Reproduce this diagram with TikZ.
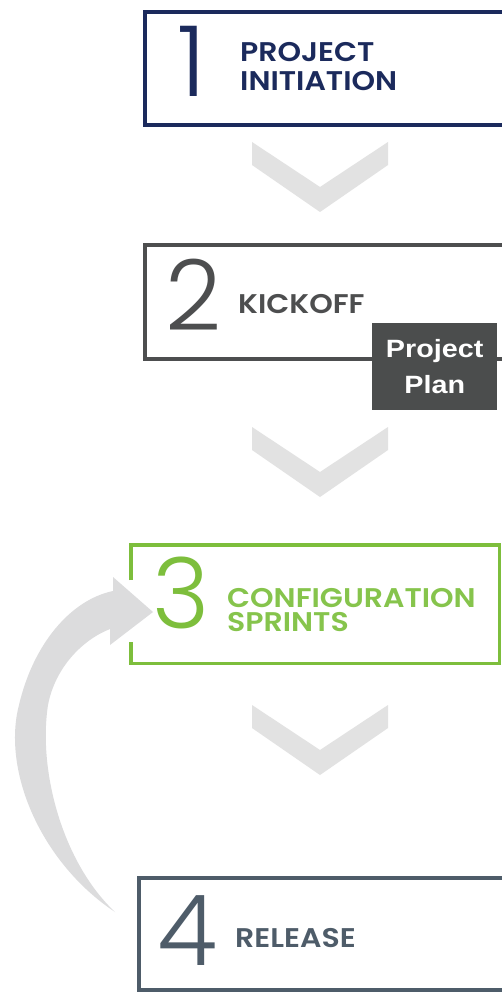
\documentclass[tikz,border=0pt]{standalone}
\usepackage{fontspec}
\usetikzlibrary{calc}
\setmainfont{Poppins}
\IfFontExistsTF{Poppins Light}
  {\newfontfamily\numfont{Poppins Light}}
  {\newfontfamily\numfont{DejaVu Sans ExtraLight}}
\IfFontExistsTF{Poppins SemiBold}
  {\newfontfamily\capfont{Poppins SemiBold}[FakeStretch=1.11]}
  {\newfontfamily\capfont{Poppins}[FakeBold=1.2,FakeStretch=1.11]}
\newfontfamily\planfont{Liberation Sans}[FakeStretch=1.15]

\definecolor{navyline}{HTML}{1B2A5C}
\definecolor{kickgray}{HTML}{4D4E4F}
\definecolor{planfill}{HTML}{4B4D4D}
\definecolor{sprintgreen}{HTML}{7DBE3C}
\definecolor{sprinttext}{HTML}{86C44C}
\definecolor{releaseslate}{HTML}{4E5C69}
\definecolor{chevgray}{HTML}{E2E2E2}
\definecolor{loopgray}{HTML}{DCDCDD}

\tikzset{
  stagebox/.style={rectangle, inner sep=0pt, anchor=north west},
  bignum/.style={inner sep=0pt, anchor=base, text depth=0pt,
    font=\numfont\fontsize{98}{98}\selectfont},
  steplabel/.style={inner sep=0pt, anchor=base west, text depth=0pt,
    font=\capfont\fontsize{27}{29}\selectfont},
  chev/.pic={
    \fill[chevgray] (-68,0) -- (0,45) -- (68,0) -- (68,23) -- (0,70) -- (-68,23) -- cycle;
  }
}

\begin{document}
\begin{tikzpicture}[x=1pt,y=-1pt]
\useasboundingbox (0,0) rectangle (502,992);
\fill[white] (0,0) rectangle (502,992);
\begin{scope}
\clip (0,0) rectangle (502,992);

% stage frames (they run on past the right edge)
\node[stagebox, draw=navyline, line width=4pt, minimum width=370pt, minimum height=113pt] (s1) at (143,10) {};
\node[stagebox, draw=kickgray, line width=3.5pt, minimum width=370pt, minimum height=114pt] (s2) at (143,243) {};
\node[stagebox, minimum width=368pt, minimum height=118pt] (s3) at (131,545) {};
\node[stagebox, draw=releaseslate, line width=3.5pt, minimum width=370pt, minimum height=112pt] (s4) at (137,876) {};

% chevrons between the stages
\pic at (320,142) {chev};
\pic at (320,427) {chev};
\pic at (320,705) {chev};

% loop arrow from release back to the sprints
\coordinate (looptail) at (115,912);
\coordinate (looptip) at (153,612);
\fill[loopgray] (looptail)
  .. controls (40,862) and (2,770) .. (19,705)
  .. controls (33,645) and (70,600) .. (113,591)
  -- (113,577) -- (looptip) -- (110,645) -- (110,629)
  .. controls (82,640) and (55,668) .. (48,705)
  .. controls (38,770) and (62,862) .. (looptail) -- cycle;

% sprint frame, open on the left where the loop arrow enters
\draw[sprintgreen, line width=3.5pt]
  ($(s3.north west)+(0,35)$) -- (s3.north west) -- (s3.north east)
  -- (s3.south east) -- (s3.south west) -- ($(s3.south west)+(0,-21)$);
\end{scope}

% deliverable tag
\node[fill=planfill, text=white, inner sep=0pt, minimum width=125pt, minimum height=87pt,
      anchor=north west, align=center,
      font=\planfont\bfseries\fontsize{25}{36}\selectfont] (plan) at (372,323) {Project\\Plan};

% numerals
\node[bignum, text=navyline] (n1) at (192,97) {1};
\node[bignum, text=kickgray] (n2) at (194,330) {2};
\node[bignum, text=sprintgreen] (n3) at (181,628) {3};
\node[bignum, text=releaseslate] (n4) at (188,965) {4};

% step names
\node[steplabel, text=navyline] (t1a) at (240,62) {PROJECT};
\node[steplabel, text=navyline] (t1b) at (240,91) {INITIATION};
\node[steplabel, text=kickgray] (t2) at (238,313) {KICKOFF};
\node[steplabel, text=sprinttext] (t3a) at (227,607) {CONFIGURATION};
\node[steplabel, text=sprinttext] (t3b) at (227,631) {SPRINTS};
\node[steplabel, text=releaseslate] (t4) at (235,947) {RELEASE};
\end{tikzpicture}
\end{document}
